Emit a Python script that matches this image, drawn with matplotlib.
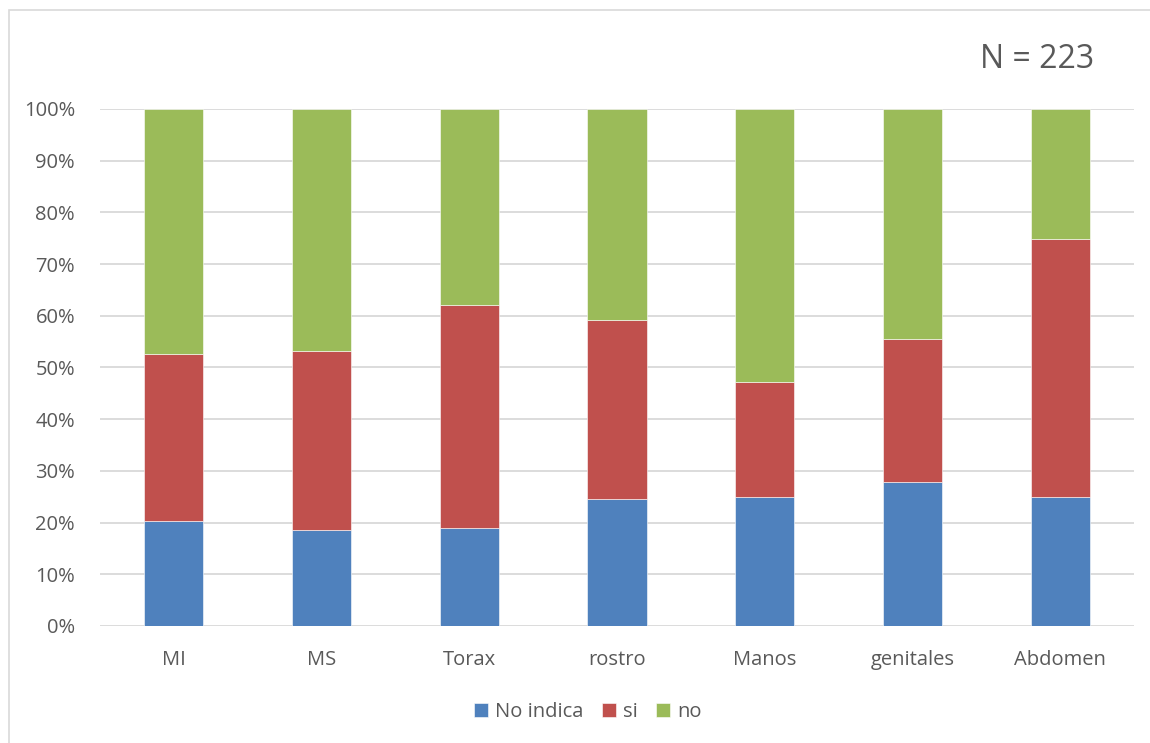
import matplotlib
matplotlib.use("Agg")
import matplotlib.pyplot as plt
from matplotlib.patches import Rectangle
from matplotlib.ticker import FuncFormatter, MultipleLocator

categories = ["MI", "MS", "Torax", "rostro", "Manos", "genitales", "Abdomen"]
no_indica = [20.3, 18.6, 19.0, 24.5, 24.9, 27.8, 24.9]
si = [32.4, 34.5, 43.0, 34.6, 22.2, 27.7, 50.0]
no = [47.3, 46.9, 38.0, 40.9, 52.9, 44.5, 25.1]
series_names = ["No indica", "si", "no"]
colors = ["#4F81BD", "#C0504D", "#9BBB59"]

plt.rcParams["font.family"] = ["Open Sans", "DejaVu Sans"]
text_color = "#595959"

fig = plt.figure(figsize=(11.5, 7.43), dpi=100)
ax = fig.add_axes([0.087, 0.1575, 0.899, 0.6958])

# outer chart frame
fig.patches.append(Rectangle((9 / 1150, -0.01), 1.1, 1 - 10 / 743 + 0.01,
                             transform=fig.transFigure, fill=False,
                             edgecolor="#d9d9d9", linewidth=1.2, zorder=0))

x = list(range(len(categories)))
bottom = [0.0] * len(categories)
for name, vals, c in zip(series_names, [no_indica, si, no], colors):
    ax.bar(x, vals, width=0.4, bottom=bottom, color=c, label=name,
           edgecolor="white", linewidth=0.4, zorder=3)
    bottom = [b + v for b, v in zip(bottom, vals)]

ax.set_xlim(-0.5, len(categories) - 0.5)
ax.set_ylim(0, 100)
ax.yaxis.set_major_locator(MultipleLocator(10))
ax.yaxis.set_major_formatter(FuncFormatter(lambda v, p: f"{int(v)}%"))
ax.grid(axis="y", color="#d9d9d9", linewidth=1.3, zorder=0)
ax.set_axisbelow(True)
for s in ax.spines.values():
    s.set_visible(False)
ax.tick_params(axis="both", length=0, labelsize=14.5, labelcolor=text_color)
ax.tick_params(axis="y", pad=18)
ax.tick_params(axis="x", pad=17)
ax.set_xticks(x)
ax.set_xticklabels(categories)

fig.text(1037 / 1150, 1 - 60 / 743, "N = 223", fontsize=23, color=text_color,
         ha="center", va="center")

leg = fig.legend(loc="center", bbox_to_anchor=(588 / 1150, 1 - 712 / 743), ncol=3,
                 frameon=False, fontsize=14.5, handlelength=0.7, handleheight=0.7,
                 handletextpad=0.35, columnspacing=0.9)
for t in leg.get_texts():
    t.set_color(text_color)

fig.savefig("out.png", dpi=100, facecolor="white")
